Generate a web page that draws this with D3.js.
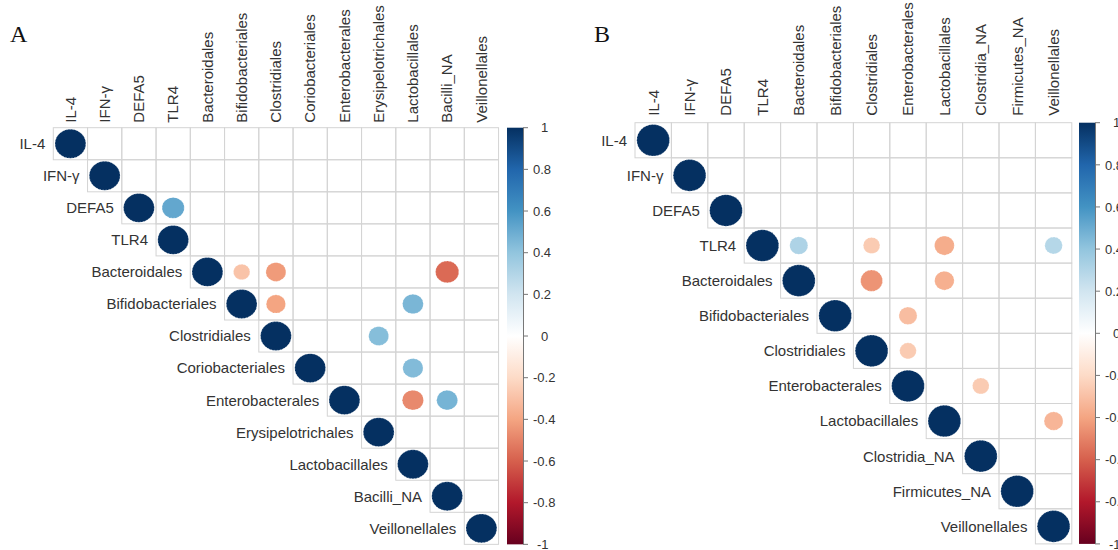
<!DOCTYPE html>
<html>
<head>
<meta charset="utf-8">
<script src="https://cdn.jsdelivr.net/npm/d3@7"></script>
<style>
  body { margin: 0; background: #fff; }
  svg { display: block; font-family: Arial, "Liberation Sans", sans-serif; }
</style>
</head>
<body>
<svg></svg>
<script>
// variables in each panel (same order on rows and columns)
const varsA = ["IL-4", "IFN-γ", "DEFA5", "TLR4", "Bacteroidales", "Bifidobacteriales", "Clostridiales",
  "Coriobacteriales", "Enterobacterales", "Erysipelotrichales", "Lactobacillales", "Bacilli_NA", "Veillonellales"];
const varsB = ["IL-4", "IFN-γ", "DEFA5", "TLR4", "Bacteroidales", "Bifidobacteriales", "Clostridiales",
  "Enterobacterales", "Lactobacillales", "Clostridia_NA", "Firmicutes_NA", "Veillonellales"];

// off-diagonal correlations shown in the upper triangle (diagonal is 1)
const corrA = [
  ["DEFA5", "TLR4", 0.52],
  ["Bacteroidales", "Bifidobacteriales", -0.29],
  ["Bacteroidales", "Clostridiales", -0.43],
  ["Bacteroidales", "Bacilli_NA", -0.57],
  ["Bifidobacteriales", "Clostridiales", -0.4],
  ["Bifidobacteriales", "Lactobacillales", 0.46],
  ["Clostridiales", "Erysipelotrichales", 0.43],
  ["Coriobacteriales", "Lactobacillales", 0.44],
  ["Enterobacterales", "Lactobacillales", -0.48],
  ["Enterobacterales", "Bacilli_NA", 0.47]
];
const corrB = [
  ["TLR4", "Bacteroidales", 0.31],
  ["TLR4", "Clostridiales", -0.26],
  ["TLR4", "Lactobacillales", -0.37],
  ["TLR4", "Veillonellales", 0.29],
  ["Bacteroidales", "Clostridiales", -0.45],
  ["Bacteroidales", "Lactobacillales", -0.36],
  ["Bifidobacteriales", "Enterobacterales", -0.31],
  ["Clostridiales", "Enterobacterales", -0.26],
  ["Enterobacterales", "Clostridia_NA", -0.26],
  ["Lactobacillales", "Veillonellales", -0.34]
];

const legendTicks = [1, 0.8, 0.6, 0.4, 0.2, 0, -0.2, -0.4, -0.6, -0.8, -1];

const width = 1118, height = 550;
const svg = d3.select("svg").attr("width", width).attr("height", height);

// corrplot RdBu palette
const color = d3.scaleLinear()
  .domain(d3.range(11).map(i => -1 + i * 0.2))
  .range(["#67001F", "#B2182B", "#D6604D", "#F4A582", "#FDDBC7", "#FFFFFF",
          "#D1E5F0", "#92C5DE", "#4393C3", "#2166AC", "#053061"]);

const defs = svg.append("defs");
const grad = defs.append("linearGradient").attr("id", "cbar")
  .attr("x1", 0).attr("y1", 1).attr("x2", 0).attr("y2", 0);
d3.range(0, 21).forEach(i => {
  let v = -1 + i * 0.1;
  grad.append("stop").attr("offset", (i / 20 * 100) + "%").attr("stop-color", color(v));
});

function drawPanel(opt) {
  let vars = opt.vars;
  let n = vars.length;
  let g = svg.append("g");

  let x = d3.scaleBand().domain(vars).range([opt.x0, opt.x0 + n * opt.cw]);
  let y = d3.scaleBand().domain(vars).range([opt.y0, opt.y0 + n * opt.ch]);
  let cw = x.bandwidth(), ch = y.bandwidth();

  // upper triangle cells
  let cells = [];
  vars.forEach((r, i) => vars.forEach((c, j) => { if (j >= i) cells.push({ r: r, c: c }); }));
  g.selectAll("rect.cell").data(cells).enter().append("rect")
    .attr("class", "cell")
    .attr("x", d => x(d.c)).attr("y", d => y(d.r))
    .attr("width", cw).attr("height", ch)
    .attr("fill", "none").attr("stroke", "#d4d4d4").attr("stroke-width", 1);

  // circles: diagonal + listed pairs
  let marks = vars.map(v => ({ r: v, c: v, v: 1 }))
    .concat(opt.corr.map(d => ({ r: d[0], c: d[1], v: d[2] })));
  g.selectAll("ellipse").data(marks).enter().append("ellipse")
    .attr("cx", d => x(d.c) + cw / 2)
    .attr("cy", d => y(d.r) + ch / 2)
    .attr("rx", d => 0.45 * cw * Math.sqrt(Math.abs(d.v)))
    .attr("ry", d => 0.45 * ch * Math.sqrt(Math.abs(d.v)))
    .attr("fill", d => color(d.v))
    .attr("stroke", "#fff").attr("stroke-opacity", 0.45)
    .attr("stroke-width", 1).attr("stroke-dasharray", "1.5,1.5");

  // row labels, right aligned next to the diagonal
  g.selectAll("text.row").data(vars).enter().append("text")
    .attr("class", "row")
    .attr("x", d => x(d) - 8)
    .attr("y", d => y(d) + ch / 2)
    .attr("dy", "0.36em")
    .attr("text-anchor", "end")
    .attr("font-size", 15).attr("fill", "#333")
    .text(d => d);

  // column labels, vertical
  g.selectAll("text.col").data(vars).enter().append("text")
    .attr("class", "col")
    .attr("transform", d => "translate(" + (x(d) + cw / 2 + 5.3) + "," + (opt.y0 - opt.colGap) + ") rotate(-90)")
    .attr("font-size", 15).attr("fill", "#333")
    .text(d => d);

  // colour legend
  let yBar = d3.scaleLinear().domain([-1, 1]).range([opt.y0 + n * opt.ch, opt.y0]);
  g.append("rect")
    .attr("x", opt.barX).attr("y", yBar(1))
    .attr("width", 16).attr("height", yBar(-1) - yBar(1))
    .attr("fill", "url(#cbar)");
  g.append("line")
    .attr("x1", opt.barX + 16.5).attr("x2", opt.barX + 16.5)
    .attr("y1", yBar(1)).attr("y2", yBar(-1))
    .attr("stroke", "#777").attr("stroke-width", 1);
  g.selectAll("line.tick").data(legendTicks).enter().append("line")
    .attr("class", "tick")
    .attr("x1", opt.barX + 16).attr("x2", opt.barX + 21)
    .attr("y1", d => yBar(d)).attr("y2", d => yBar(d))
    .attr("stroke", "#777").attr("stroke-width", 1);
  g.selectAll("text.tick").data(legendTicks).enter().append("text")
    .attr("class", "tick")
    .attr("x", d => opt.barX + 26 + Math.max(0, 3 - String(d).length) * 4)
    .attr("y", d => yBar(d))
    .attr("dy", "0.36em")
    .attr("font-size", 13).attr("fill", "#333")
    .text(d => String(d));

  // panel letter
  svg.append("text")
    .attr("x", opt.letterX).attr("y", 42)
    .attr("font-family", "'Liberation Serif', 'Times New Roman', serif")
    .attr("font-size", 24).attr("fill", "#111")
    .text(opt.letter);
}

drawPanel({ vars: varsA, corr: corrA, x0: 53.3, y0: 127.7, cw: 34.25, ch: 32.05,
  colGap: 5, barX: 507, letter: "A", letterX: 10 });
drawPanel({ vars: varsB, corr: corrB, x0: 635, y0: 122.7, cw: 36.4, ch: 35.1,
  colGap: 7, barX: 1079, letter: "B", letterX: 594 });
</script>
</body>
</html>
